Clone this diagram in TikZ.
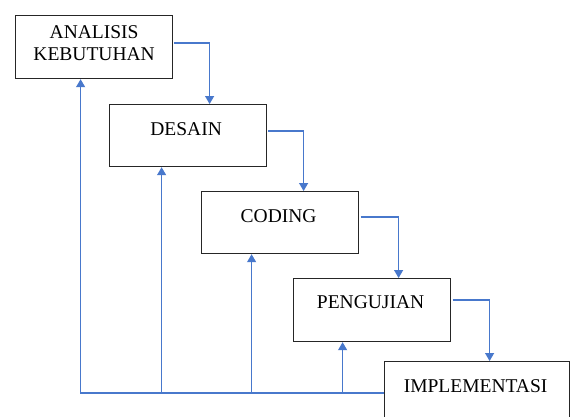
\documentclass[tikz,border=0pt]{standalone}
\usepackage{fontspec}
\setmainfont{Liberation Serif}
\usetikzlibrary{calc,arrows.meta}
\definecolor{wordblue}{HTML}{4878CC}
\begin{document}
\begin{tikzpicture}[x=1pt,y=-1pt,
  box/.style={draw=black!85, line width=1.2pt, anchor=north west, inner sep=0pt, minimum width=157pt, minimum height=63pt},
  lbl/.style={anchor=base, inner sep=0pt, font=\fontsize{19.5}{21}\selectfont},
  arr/.style={draw=wordblue, line width=1.2pt, -{Triangle[width=9pt,length=8pt]}},
  ln/.style={draw=wordblue, line width=1.2pt}]
\useasboundingbox (0,0) rectangle (571,416);
\clip (0,0) rectangle (571,416);
\fill[white] (0,0) rectangle (571,416);
% boxes
\node[box] (a) at (15,15) {};
\node[box, minimum height=62pt] (b) at (109,104) {};
\node[box, minimum height=62pt] (c) at (201,191) {};
\node[box] (d) at (293,278) {};
\node[box, minimum width=185pt] (e) at (384,361) {};
% labels
\node[lbl] (ta1) at ($(a.north)+(0,23)$) {ANALISIS};
\node[lbl] (ta2) at ($(a.north)+(0,45)$) {KEBUTUHAN};
\node[lbl] (tb) at ($(b.north)+(-2,31)$) {DESAIN};
\node[lbl] (tc) at ($(c.north)+(-1.5,31)$) {CODING};
\node[lbl] (td) at ($(d.north)+(-1.5,30)$) {PENGUJIAN};
\node[lbl] (te) at ($(e.north)+(-1.5,31)$) {IMPLEMENTASI};
% forward connectors
\draw[arr] ($(a.north east)+(1,28)$) -| ($(b.north)+(21.5,0)$);
\draw[arr] ($(b.north east)+(1,27)$) -| ($(c.north)+(23.5,0)$);
\draw[arr] ($(c.north east)+(1.5,26)$) -| ($(d.north)+(26.5,0)$);
\draw[arr] ($(d.north east)+(1.5,22)$) -| ($(e.north)+(12.5,0)$);
% feedback connectors
\coordinate (fb) at ($(e.north west)+(0,32)$);
\coordinate (as) at ($(a.south)+(-13.5,0)$);
\coordinate (bs) at ($(b.south)+(-26.5,0)$);
\coordinate (cs) at ($(c.south)+(-28.5,0)$);
\coordinate (ds) at ($(d.south)+(-29.5,0)$);
\draw[arr] (fb) -| (as);
\draw[arr] (bs |- fb) -- (bs);
\draw[arr] (cs |- fb) -- (cs);
\draw[arr] (ds |- fb) -- (ds);
\end{tikzpicture}
\end{document}
